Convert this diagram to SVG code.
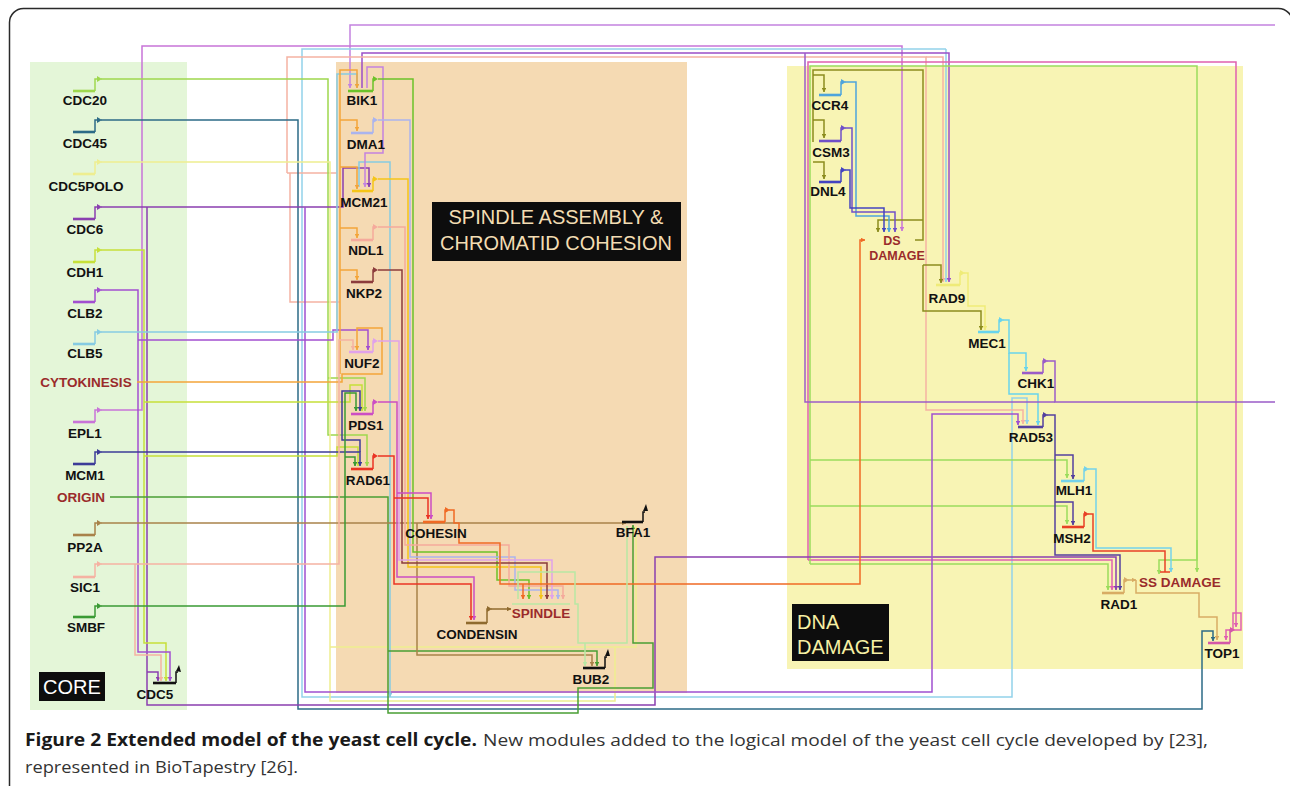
<svg xmlns="http://www.w3.org/2000/svg" width="1290" height="786" viewBox="0 0 1290 786">
<style>
.lbl{font-family:"Liberation Sans",Arial,sans-serif;font-weight:bold;font-size:13.5px;fill:#111;text-anchor:middle}
.sig{font-family:"Liberation Sans",Arial,sans-serif;font-weight:bold;font-size:13.5px;fill:#9a2b2b;text-anchor:middle}
.mod{font-family:"Liberation Sans",Arial,sans-serif;font-size:20px}
.gene{fill:none;stroke-width:2.6}
.bent{fill:none;stroke-width:1.5}
.c{fill:none;stroke-width:1.5;marker-end:url(#ah)}
.n{fill:none;stroke-width:1.5}
.cap{font-family:"Open Sans","Liberation Sans",Arial,sans-serif;font-size:17px}
</style>
<defs>
<marker id="ah" viewBox="0 0 6 6" refX="5.5" refY="3" markerWidth="3" markerHeight="3" orient="auto"><path d="M0,0 L6,3 L0,6z" fill="context-stroke"/></marker>
</defs>
<rect width="1290" height="786" fill="#fff"/>
<rect x="9.5" y="8.5" width="1283" height="800" rx="14" fill="none" stroke="#2a2a2a" stroke-width="1.5"/>
<g id="modules">
<rect x="30" y="62" width="157" height="648" fill="#e4f6d8"/>
<rect x="336" y="62" width="351" height="631" fill="#f5dab3"/>
<rect x="787" y="66" width="456" height="603" fill="#f8f4b4"/>
</g>
<g id="connectors">
<path class="c" stroke="#c383e0" d="M1275,25 H350 V88"/>
<path class="c" stroke="#c874d8" d="M101,410 H142 V46 H902 V231"/>
<path class="c" stroke="#92d2ea" d="M946,49 H302 V697 H1012 V398 H1027 V424"/>
<path class="c" stroke="#92d2ea" d="M946,49 V282"/>
<path class="c" stroke="#9b4fc8" d="M362,88 V53 H949 V282"/>
<path class="c" stroke="#f5b2a2" d="M287,173 V57 H926 V410 H1023 V424"/>
<path class="c" stroke="#f5b2a2" d="M926,57 H943 V282"/>
<path class="n" stroke="#f5b2a2" d="M287,173 H337"/>
<path class="n" stroke="#f5b2a2" d="M290,173 V302 H340"/>
<path class="c" stroke="#e060b0" d="M808,560 V62 H1236 V627"/>
<path class="c" stroke="#e060b0" d="M808,560 H1112 V590"/>
<path class="c" stroke="#9bdc5c" d="M810,564 V66 H1197 V560 H1159 V574"/>
<path class="c" stroke="#9bdc5c" d="M1197,540 V572"/>
<path class="c" stroke="#9bdc5c" d="M810,564 H1108 V590"/>
<path class="c" stroke="#9bdc5c" d="M810,460 H1067 V478"/>
<path class="c" stroke="#9bdc5c" d="M810,506 H1067 V524"/>
<path class="c" stroke="#9ed84e" d="M101,79 H328 V435 H367 V466"/>
<path class="c" stroke="#9ed84e" d="M328,378 H365 V411"/>
<path class="c" stroke="#2d6b86" d="M101,120 H298 V709 H1202 V631 H1213 V641"/>
<path class="n" stroke="#eeee90" d="M101,162 H330 V701 H615 V647"/>
<path class="c" stroke="#eeee90" d="M330,647 H636 V526"/>
<path class="c" stroke="#8a3fb0" d="M101,207 H343 V168 H369 V187"/>
<path class="c" stroke="#8a3fb0" d="M147,207 V705 H655 V557 H1116 V590"/>
<path class="c" stroke="#a050d0" d="M305,207 V692 H932 V414 H1018 V425"/>
<path class="c" stroke="#8a3fb0" d="M147,672 H158 V681"/>
<path class="c" stroke="#c6e03a" d="M101,250 H144 V643 H166 V681"/>
<path class="c" stroke="#c6e03a" d="M144,402 H350 V385 H362 V411"/>
<path class="c" stroke="#c6e03a" d="M144,456 H337 V447 H358 V466"/>
<path class="c" stroke="#a24fd0" d="M101,290 H138 V652 H170 V681"/>
<path class="c" stroke="#a24fd0" d="M138,340 H333 V330 H368 V350"/>
<path class="c" stroke="#86cbe2" d="M101,332 H337 V74 H357 V88"/>
<path class="c" stroke="#86cbe2" d="M359,187 V162 H390 V697"/>
<path class="c" stroke="#f3a53a" d="M137,382 H342 V374 H382 V328 H357 V350"/>
<path class="c" stroke="#f3a53a" d="M340,374 V70 H357 V88"/>
<path class="c" stroke="#f3a53a" d="M340,120 H357 V131"/>
<path class="c" stroke="#f3a53a" d="M340,167 H357 V189"/>
<path class="c" stroke="#f3a53a" d="M340,228 H357 V238"/>
<path class="c" stroke="#f3a53a" d="M340,270 H357 V280"/>
<path class="c" stroke="#3c3c98" d="M101,452 H360 V466"/>
<path class="c" stroke="#3c3c98" d="M360,452 V440 H342 V391 H360 V411"/>
<path class="c" stroke="#4a9e34" d="M110,497 H388 V713 H578 V688 H653 V643 H633 V525"/>
<path class="c" stroke="#4a9e34" d="M388,651 H597 V666"/>
<path class="c" stroke="#a8824a" d="M101,523 H626"/>
<path class="c" stroke="#a8824a" d="M417,523 V655 H592 V666"/>
<path class="c" stroke="#f5b2a2" d="M101,564 H339 V340 H353 V350"/>
<path class="c" stroke="#f5b2a2" d="M135,564 V655 H161 V681"/>
<path class="c" stroke="#3a9a34" d="M101,606 H345 V393 H356 V411"/>
<path class="c" stroke="#3a9a34" d="M345,457 H355 V466"/>
<path class="c" stroke="#c383e0" d="M367,88 V67 H383 V153 H365 V187"/>
<path class="c" stroke="#6cc22a" d="M378,79 H413 V552 H497 V580 H529 V599"/>
<path class="c" stroke="#aab4ee" d="M378,120 H410 V557 H515 V590 H558 V599"/>
<path class="c" stroke="#f5c518" d="M378,179 H408 V567 H541 V599"/>
<path class="c" stroke="#f5aa9c" d="M378,227 H405 V545 H509 V586 H563 V599"/>
<path class="c" stroke="#8c3c3c" d="M378,270 H402 V563 H547 V599"/>
<path class="c" stroke="#e0a2ea" d="M378,341 H399 V560 H552 V599"/>
<path class="c" stroke="#cc4ec4" d="M378,402 H397 V577 H474 V620"/>
<path class="c" stroke="#cc4ec4" d="M397,493 H431 V519"/>
<path class="c" stroke="#ea3424" d="M378,456 H394 V584 H471 V620"/>
<path class="c" stroke="#ea3424" d="M394,498 H428 V519"/>
<path class="c" stroke="#f06a24" d="M449,510 H454 V523 H459 V543 H500 V584 H860 V240 H865"/>
<path class="c" stroke="#f06a24" d="M523,584 V599"/>
<path class="c" stroke="#8f6a2e" d="M491,609 H511"/>
<path class="n" stroke="#b8e8a4" d="M512,604 H570"/>
<path class="c" stroke="#b8e8a4" d="M518,599 V572 H575 V604 H578 V643 H627 V526"/>
<path class="c" stroke="#b8e8a4" d="M585,643 V666"/>
<path class="n" stroke="#8c8c1e" d="M915,240 H923 V70 H813 V142"/>
<path class="c" stroke="#8c8c1e" d="M813,75 H824 V92"/>
<path class="c" stroke="#8c8c1e" d="M813,120 H824 V138"/>
<path class="c" stroke="#8c8c1e" d="M813,162 H824 V179"/>
<path class="c" stroke="#8c8c1e" d="M923,220 H878 V232"/>
<path class="c" stroke="#8c8c1e" d="M923,265 V311 H981 V330"/>
<path class="c" stroke="#8c8c1e" d="M923,265 H941 V283"/>
<path class="c" stroke="#4ea4dc" d="M845,82 H856 V216 H889 V232"/>
<path class="c" stroke="#7050c8" d="M845,128 H852 V212 H895 V232"/>
<path class="c" stroke="#4444c0" d="M845,170 H850 V208 H884 V232"/>
<path class="c" stroke="#efeb78" d="M964,273 H968 V306 H985 V330"/>
<path class="c" stroke="#68d4ec" d="M1003,320 H1009 V353 H1026 V371"/>
<path class="c" stroke="#68d4ec" d="M1009,353 V394 H1038 V425"/>
<path class="n" stroke="#9a5cc8" d="M1047,361 H1055 V402 H1275"/>
<path class="n" stroke="#9a5cc8" d="M1055,402 H805 V53"/>
<path class="c" stroke="#54409e" d="M1047,415 H1055 V555 H1120 V590"/>
<path class="c" stroke="#54409e" d="M1055,455 H1073 V479"/>
<path class="c" stroke="#54409e" d="M1055,502 H1073 V525"/>
<path class="c" stroke="#74d2ea" d="M1088,469 H1096 V548 H1171 V572"/>
<path class="n" stroke="#e84026" d="M1088,514 H1093 V551 H1165 V572 M1160,572 H1170"/>
<path class="c" stroke="#d8ac64" d="M1128,580 H1136"/>
<path class="c" stroke="#d8ac64" d="M1136,580 V593 H1199 V617 H1217 V640"/>
<path class="c" stroke="#e060b0" d="M1233,630 V613 H1241 V630 H1226 V640"/>
</g>
<g id="n-CDC20"><path class="gene" stroke="#9ed84e" d="M73,91 H95"/><path class="bent" stroke="#9ed84e" d="M95,91 V79 H98"/><polygon fill="#9ed84e" points="97,76 102,79 97,82"/><text class="lbl" x="85" y="105">CDC20</text></g>
<g id="n-CDC45"><path class="gene" stroke="#2d6b86" d="M73,132 H95"/><path class="bent" stroke="#2d6b86" d="M95,132 V120 H98"/><polygon fill="#2d6b86" points="97,117 102,120 97,123"/><text class="lbl" x="85" y="148">CDC45</text></g>
<g id="n-CDC5POLO"><path class="gene" stroke="#eeee90" d="M73,174 H95"/><path class="bent" stroke="#eeee90" d="M95,174 V162 H98"/><polygon fill="#eeee90" points="97,159 102,162 97,165"/><text class="lbl" x="86" y="191">CDC5POLO</text></g>
<g id="n-CDC6"><path class="gene" stroke="#8a3fb0" d="M73,219 H95"/><path class="bent" stroke="#8a3fb0" d="M95,219 V207 H98"/><polygon fill="#8a3fb0" points="97,204 102,207 97,210"/><text class="lbl" x="85" y="234">CDC6</text></g>
<g id="n-CDH1"><path class="gene" stroke="#c6e03a" d="M73,262 H95"/><path class="bent" stroke="#c6e03a" d="M95,262 V250 H98"/><polygon fill="#c6e03a" points="97,247 102,250 97,253"/><text class="lbl" x="85" y="277">CDH1</text></g>
<g id="n-CLB2"><path class="gene" stroke="#a24fd0" d="M73,302 H95"/><path class="bent" stroke="#a24fd0" d="M95,302 V290 H98"/><polygon fill="#a24fd0" points="97,287 102,290 97,293"/><text class="lbl" x="85" y="318">CLB2</text></g>
<g id="n-CLB5"><path class="gene" stroke="#86cbe2" d="M73,344 H95"/><path class="bent" stroke="#86cbe2" d="M95,344 V332 H98"/><polygon fill="#86cbe2" points="97,329 102,332 97,335"/><text class="lbl" x="85" y="358">CLB5</text></g>
<g id="n-CYTOKINESIS"><text class="sig" x="86" y="387">CYTOKINESIS</text></g>
<g id="n-EPL1"><path class="gene" stroke="#c874d8" d="M73,422 H95"/><path class="bent" stroke="#c874d8" d="M95,422 V410 H98"/><polygon fill="#c874d8" points="97,407 102,410 97,413"/><text class="lbl" x="85" y="438">EPL1</text></g>
<g id="n-MCM1"><path class="gene" stroke="#3c3c98" d="M73,464 H95"/><path class="bent" stroke="#3c3c98" d="M95,464 V452 H98"/><polygon fill="#3c3c98" points="97,449 102,452 97,455"/><text class="lbl" x="85" y="480">MCM1</text></g>
<g id="n-ORIGIN"><text class="sig" x="81" y="502">ORIGIN</text></g>
<g id="n-PP2A"><path class="gene" stroke="#a8824a" d="M73,535 H95"/><path class="bent" stroke="#a8824a" d="M95,535 V523 H98"/><polygon fill="#a8824a" points="97,520 102,523 97,526"/><text class="lbl" x="85" y="552">PP2A</text></g>
<g id="n-SIC1"><path class="gene" stroke="#f5b2a2" d="M73,577 H95"/><path class="bent" stroke="#f5b2a2" d="M95,577 V564 H98"/><polygon fill="#f5b2a2" points="97,561 102,564 97,567"/><text class="lbl" x="85" y="592">SIC1</text></g>
<g id="n-SMBF"><path class="gene" stroke="#3a9a34" d="M73,617 H95"/><path class="bent" stroke="#3a9a34" d="M95,617 V606 H98"/><polygon fill="#3a9a34" points="97,603 102,606 97,609"/><text class="lbl" x="86" y="632">SMBF</text></g>
<g id="n-CDC5"><path class="gene" stroke="#111" d="M153,683 H176"/><path class="bent" stroke="#111" d="M176,683 V672 H178"/><polygon fill="#111" points="176,671 179,665 181,672"/><text class="lbl" x="155" y="699">CDC5</text></g>
<g id="n-BIK1"><path class="gene" stroke="#6cc22a" d="M348,91 H373"/><path class="bent" stroke="#6cc22a" d="M373,91 V79 H375"/><polygon fill="#6cc22a" points="373,76 378,79 373,82"/><text class="lbl" x="362" y="105">BIK1</text></g>
<g id="n-DMA1"><path class="gene" stroke="#aab4ee" d="M351,133 H373"/><path class="bent" stroke="#aab4ee" d="M373,133 V120 H375"/><polygon fill="#aab4ee" points="373,117 378,120 373,123"/><text class="lbl" x="366" y="149">DMA1</text></g>
<g id="n-MCM21"><path class="gene" stroke="#f5c518" d="M352,191 H373"/><path class="bent" stroke="#f5c518" d="M373,191 V179 H375"/><polygon fill="#f5c518" points="373,176 378,179 373,182"/><text class="lbl" x="364" y="207">MCM21</text></g>
<g id="n-NDL1"><path class="gene" stroke="#f5aa9c" d="M351,240 H373"/><path class="bent" stroke="#f5aa9c" d="M373,240 V227 H375"/><polygon fill="#f5aa9c" points="373,224 378,227 373,230"/><text class="lbl" x="366" y="255">NDL1</text></g>
<g id="n-NKP2"><path class="gene" stroke="#8c3c3c" d="M351,282 H373"/><path class="bent" stroke="#8c3c3c" d="M373,282 V270 H375"/><polygon fill="#8c3c3c" points="373,267 378,270 373,273"/><text class="lbl" x="364" y="298">NKP2</text></g>
<g id="n-NUF2"><path class="gene" stroke="#e0a2ea" d="M349,352 H373"/><path class="bent" stroke="#e0a2ea" d="M373,352 V341 H375"/><polygon fill="#e0a2ea" points="373,338 378,341 373,344"/><text class="lbl" x="362" y="368">NUF2</text></g>
<g id="n-PDS1"><path class="gene" stroke="#cc4ec4" d="M351,414 H373"/><path class="bent" stroke="#cc4ec4" d="M373,414 V402 H375"/><polygon fill="#cc4ec4" points="373,399 378,402 373,405"/><text class="lbl" x="366" y="430">PDS1</text></g>
<g id="n-RAD61"><path class="gene" stroke="#ea3424" d="M351,469 H373"/><path class="bent" stroke="#ea3424" d="M373,469 V456 H375"/><polygon fill="#ea3424" points="373,453 378,456 373,459"/><text class="lbl" x="368" y="485">RAD61</text></g>
<g id="n-COHESIN"><path class="gene" stroke="#f06a24" d="M423,522 H445"/><path class="bent" stroke="#f06a24" d="M445,522 V510 H447"/><polygon fill="#f06a24" points="445,507 450,510 445,513"/><text class="lbl" x="436" y="538">COHESIN</text></g>
<g id="n-BFA1"><path class="gene" stroke="#111" d="M622,522 H643"/><path class="bent" stroke="#111" d="M643,522 V512 H645"/><polygon fill="#111" points="643,511 646,504 648,511"/><text class="lbl" x="633" y="537">BFA1</text></g>
<g id="n-CONDENSIN"><path class="gene" stroke="#8f6a2e" d="M466,623 H487"/><path class="bent" stroke="#8f6a2e" d="M487,623 V609 H489"/><polygon fill="#8f6a2e" points="487,606 492,609 487,612"/><text class="lbl" x="477" y="639">CONDENSIN</text></g>
<g id="n-SPINDLE"><text class="sig" x="541" y="618">SPINDLE</text></g>
<g id="n-BUB2"><path class="gene" stroke="#111" d="M583,668 H605"/><path class="bent" stroke="#111" d="M605,668 V657 H607"/><polygon fill="#111" points="605,656 608,649 610,656"/><text class="lbl" x="591" y="684">BUB2</text></g>
<g id="n-CCR4"><path class="gene" stroke="#4ea4dc" d="M819,95 H841"/><path class="bent" stroke="#4ea4dc" d="M841,95 V82 H843"/><polygon fill="#4ea4dc" points="841,79 846,82 841,85"/><text class="lbl" x="830" y="110">CCR4</text></g>
<g id="n-CSM3"><path class="gene" stroke="#7050c8" d="M819,141 H841"/><path class="bent" stroke="#7050c8" d="M841,141 V128 H843"/><polygon fill="#7050c8" points="841,125 846,128 841,131"/><text class="lbl" x="831" y="157">CSM3</text></g>
<g id="n-DNL4"><path class="gene" stroke="#4444c0" d="M819,182 H841"/><path class="bent" stroke="#4444c0" d="M841,182 V170 H843"/><polygon fill="#4444c0" points="841,167 846,170 841,173"/><text class="lbl" x="828" y="196">DNL4</text></g>
<g id="n-DSDAMAGE"><text class="sig" style="font-size:12.5px"><tspan x="892" y="245">DS</tspan><tspan x="897" y="259.5">DAMAGE</tspan></text></g>
<g id="n-RAD9"><path class="gene" stroke="#efeb78" d="M936,285 H960"/><path class="bent" stroke="#efeb78" d="M960,285 V273 H962"/><polygon fill="#efeb78" points="960,270 965,273 960,276"/><text class="lbl" x="947" y="303">RAD9</text></g>
<g id="n-MEC1"><path class="gene" stroke="#68d4ec" d="M978,332 H999"/><path class="bent" stroke="#68d4ec" d="M999,332 V320 H1001"/><polygon fill="#68d4ec" points="999,317 1004,320 999,323"/><text class="lbl" x="987" y="348">MEC1</text></g>
<g id="n-CHK1"><path class="gene" stroke="#9a5cc8" d="M1022,373 H1043"/><path class="bent" stroke="#9a5cc8" d="M1043,373 V361 H1045"/><polygon fill="#9a5cc8" points="1043,358 1048,361 1043,364"/><text class="lbl" x="1036" y="388">CHK1</text></g>
<g id="n-RAD53"><path class="gene" stroke="#54409e" d="M1018,427 H1043"/><path class="bent" stroke="#54409e" d="M1043,427 V415 H1045"/><polygon fill="#54409e" points="1043,412 1048,415 1043,418"/><text class="lbl" x="1031" y="442">RAD53</text></g>
<g id="n-MLH1"><path class="gene" stroke="#74d2ea" d="M1061,481 H1084"/><path class="bent" stroke="#74d2ea" d="M1084,481 V469 H1086"/><polygon fill="#74d2ea" points="1084,466 1089,469 1084,472"/><text class="lbl" x="1074" y="495">MLH1</text></g>
<g id="n-MSH2"><path class="gene" stroke="#e84026" d="M1062,527 H1084"/><path class="bent" stroke="#e84026" d="M1084,527 V514 H1086"/><polygon fill="#e84026" points="1084,511 1089,514 1084,517"/><text class="lbl" x="1072" y="543">MSH2</text></g>
<g id="n-SSDAMAGE"><text class="sig" x="1180" y="587">SS DAMAGE</text></g>
<g id="n-RAD1"><path class="gene" stroke="#d8ac64" d="M1102,593 H1124"/><path class="bent" stroke="#d8ac64" d="M1124,593 V580 H1126"/><polygon fill="#d8ac64" points="1124,577 1129,580 1124,583"/><text class="lbl" x="1119" y="609">RAD1</text></g>
<g id="n-TOP1"><path class="gene" stroke="#d457a8" d="M1208,643 H1230"/><path class="bent" stroke="#d457a8" d="M1230,643 V630 H1232"/><polygon fill="#d457a8" points="1230,627 1235,630 1230,633"/><text class="lbl" x="1222" y="658">TOP1</text></g>
<g id="labels">
<rect x="432" y="202" width="249" height="59" fill="#0d0d0d"/>
<text class="mod" x="556" y="224" fill="#f3ddb3" text-anchor="middle">SPINDLE ASSEMBLY &amp;</text>
<text class="mod" x="556" y="250" fill="#f3ddb3" text-anchor="middle">CHROMATID COHESION</text>
<rect x="792" y="604" width="97" height="57" fill="#0d0d0d"/>
<text class="mod" x="797" y="629" fill="#f6f0a4">DNA</text>
<text class="mod" x="797" y="654" fill="#f6f0a4">DAMAGE</text>
<rect x="39" y="672" width="66" height="29" fill="#0d0d0d"/>
<text class="mod" x="72" y="694" fill="#fff" text-anchor="middle">CORE</text>
</g>
<g id="caption">
<text class="cap" y="746"><tspan x="25" font-weight="bold" fill="#1a1a1a" textLength="452" lengthAdjust="spacingAndGlyphs">Figure 2 Extended model of the yeast cell cycle.</tspan><tspan x="483" fill="#333" textLength="725" lengthAdjust="spacingAndGlyphs">New modules added to the logical model of the yeast cell cycle developed by [23],</tspan></text>
<text class="cap" x="25" y="773" fill="#333" textLength="273" lengthAdjust="spacingAndGlyphs">represented in BioTapestry [26].</text>
</g>
</svg>
